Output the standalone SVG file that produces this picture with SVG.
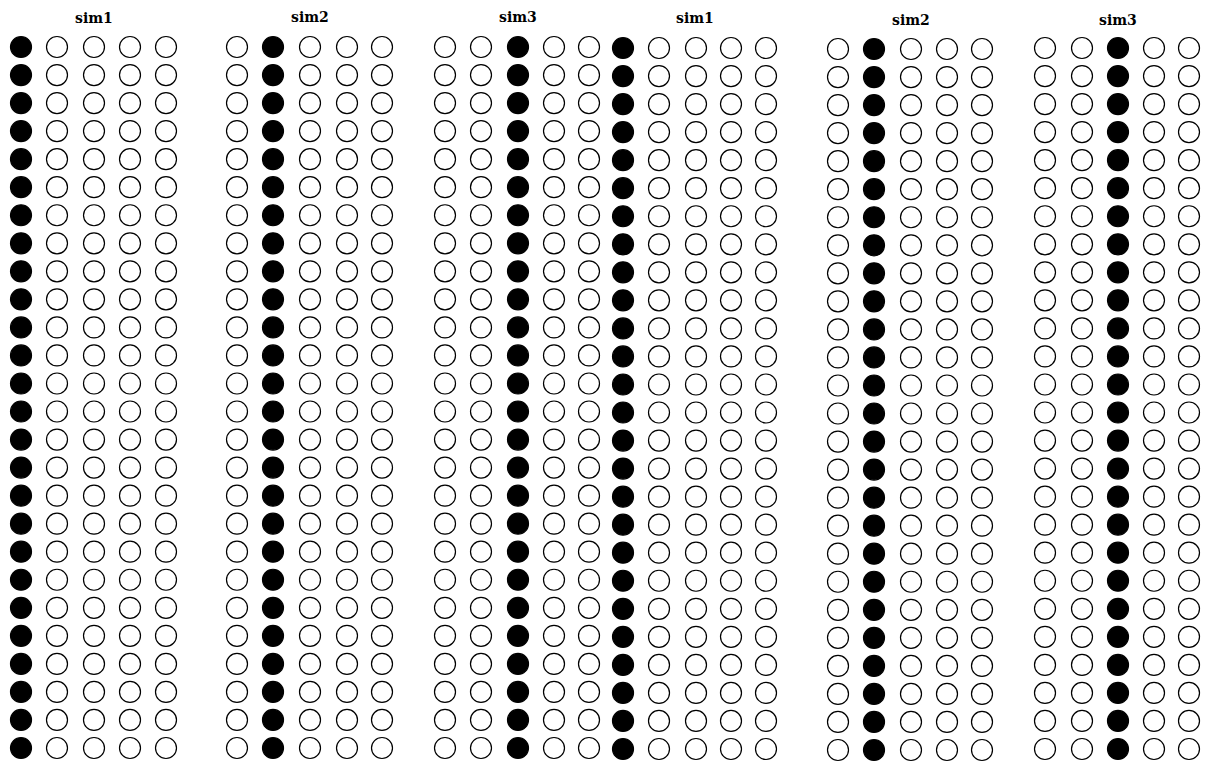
<svg xmlns="http://www.w3.org/2000/svg" width="1206" height="765" viewBox="0 0 1206 765">
<style>
.t{font-family:"DejaVu Serif","Liberation Serif",serif;font-size:14px;font-weight:bold;fill:#000;text-anchor:middle}
.o{fill:#fff;stroke:#000;stroke-width:1.2}
.f{fill:#000;stroke:#000;stroke-width:1.2}
</style>
<defs>
<g id="col">
<circle cx="0" cy="0" r="10.5"/><circle cx="0" cy="28.04" r="10.5"/><circle cx="0" cy="56.08" r="10.5"/><circle cx="0" cy="84.12" r="10.5"/><circle cx="0" cy="112.16" r="10.5"/><circle cx="0" cy="140.2" r="10.5"/><circle cx="0" cy="168.24" r="10.5"/><circle cx="0" cy="196.28" r="10.5"/><circle cx="0" cy="224.32" r="10.5"/><circle cx="0" cy="252.36" r="10.5"/><circle cx="0" cy="280.4" r="10.5"/><circle cx="0" cy="308.44" r="10.5"/><circle cx="0" cy="336.48" r="10.5"/><circle cx="0" cy="364.52" r="10.5"/><circle cx="0" cy="392.56" r="10.5"/><circle cx="0" cy="420.6" r="10.5"/><circle cx="0" cy="448.64" r="10.5"/><circle cx="0" cy="476.68" r="10.5"/><circle cx="0" cy="504.72" r="10.5"/><circle cx="0" cy="532.76" r="10.5"/><circle cx="0" cy="560.8" r="10.5"/><circle cx="0" cy="588.84" r="10.5"/><circle cx="0" cy="616.88" r="10.5"/><circle cx="0" cy="644.92" r="10.5"/><circle cx="0" cy="672.96" r="10.5"/><circle cx="0" cy="701" r="10.5"/>
</g>
</defs>
<g id="connectors"/>
<g id="panel1">
<text class="t" x="94" y="23">sim1</text>
<use href="#col" class="f" x="21" y="47"/>
<use href="#col" class="o" x="57" y="47"/>
<use href="#col" class="o" x="94" y="47"/>
<use href="#col" class="o" x="130" y="47"/>
<use href="#col" class="o" x="166" y="47"/>
</g>
<g id="panel2">
<text class="t" x="310" y="22">sim2</text>
<use href="#col" class="o" x="237" y="47"/>
<use href="#col" class="f" x="273" y="47"/>
<use href="#col" class="o" x="310" y="47"/>
<use href="#col" class="o" x="347" y="47"/>
<use href="#col" class="o" x="382" y="47"/>
</g>
<g id="panel3">
<text class="t" x="518" y="22">sim3</text>
<use href="#col" class="o" x="445" y="47"/>
<use href="#col" class="o" x="481" y="47"/>
<use href="#col" class="f" x="518" y="47"/>
<use href="#col" class="o" x="554" y="47"/>
<use href="#col" class="o" x="589" y="47"/>
</g>
<g id="panel4">
<text class="t" x="695" y="23">sim1</text>
<use href="#col" class="f" x="623" y="48"/>
<use href="#col" class="o" x="659" y="48"/>
<use href="#col" class="o" x="696" y="48"/>
<use href="#col" class="o" x="731" y="48"/>
<use href="#col" class="o" x="766" y="48"/>
</g>
<g id="panel5">
<text class="t" x="911" y="25">sim2</text>
<use href="#col" class="o" x="838" y="49"/>
<use href="#col" class="f" x="874" y="49"/>
<use href="#col" class="o" x="911" y="49"/>
<use href="#col" class="o" x="947" y="49"/>
<use href="#col" class="o" x="982" y="49"/>
</g>
<g id="panel6">
<text class="t" x="1118" y="25">sim3</text>
<use href="#col" class="o" x="1045" y="48"/>
<use href="#col" class="o" x="1082" y="48"/>
<use href="#col" class="f" x="1118" y="48"/>
<use href="#col" class="o" x="1154" y="48"/>
<use href="#col" class="o" x="1189" y="48"/>
</g>
</svg>
